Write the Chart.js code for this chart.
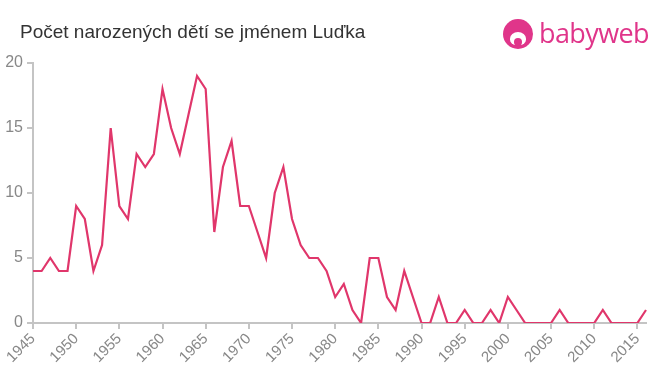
<!DOCTYPE html>
<html lang="cs">
<head>
    <meta charset="UTF-8">
    <title>Počet narozených dětí se jménem Luďka</title>
    <script src="https://cdn.jsdelivr.net/npm/chart.js"></script>
    <style>
        body { margin: 0; background: #fff; font-family: "Liberation Sans", Arial, sans-serif; }
        #wrap { position: relative; width: 660px; height: 375px; }
        #title { position: absolute; left: 20px; top: 21px; font-size: 19px; color: #333; }
        #logo { position: absolute; left: 503px; top: 14px; height: 40px; }
        #logo .icon { position: absolute; left: 0; top: 5px; width: 30px; height: 30px; border-radius: 50%; background: #e0358a; }
        #logo .icon:before { content: ''; position: absolute; left: 7px; top: 13px; width: 16px; height: 13px; border-radius: 50% 50% 40% 40%; background: #fff; }
        #logo .icon:after { content: ''; position: absolute; left: 11px; top: 19px; width: 8px; height: 8px; border-radius: 50%; background: #e0358a; }
        #logo .txt { position: absolute; left: 36px; top: 0; font-size: 27px; color: #e0358a; font-family: "Open Sans", sans-serif; letter-spacing: -0.6px; }
        canvas { position: absolute; left: 0; top: 0; }
    </style>
</head>
<body>
<div id="wrap">
    <canvas id="chart" width="660" height="375"></canvas>
    <div id="title">Počet narozených dětí se jménem Luďka</div>
    <div id="logo"><div class="icon"></div><div class="txt">babyweb</div></div>
</div>
<script>
    const years = [];
    for (let y = 1945; y <= 2016; y++) years.push(String(y));

    const births = [
        4, 4, 5, 4, 4, 9, 8, 4, 6, 15,
        9, 8, 13, 12, 13, 18, 15, 13, 16, 19,
        18, 7, 12, 14, 9, 9, 7, 5, 10, 12,
        8, 6, 5, 5, 4, 2, 3, 1, 0, 5,
        5, 2, 1, 4, 2, 0, 0, 2, 0, 0,
        1, 0, 0, 1, 0, 2, 1, 0, 0, 0,
        0, 1, 0, 0, 0, 0, 1, 0, 0, 0,
        0, 1
    ];

    const yTicks = [0, 5, 10, 15, 20];

    new Chart(document.getElementById('chart'), {
        type: 'line',
        data: {
            labels: years,
            datasets: [{
                data: births,
                borderColor: '#e0366b',
                borderWidth: 2.2,
                pointRadius: 0,
                tension: 0,
                fill: false
            }]
        },
        options: {
            responsive: false,
            animation: false,
            layout: { padding: { top: 63, right: 14, left: 0, bottom: 0 } },
            plugins: { legend: { display: false }, tooltip: { enabled: false } },
            scales: {
                x: {
                    offset: false,
                    grid: { drawOnChartArea: false, drawTicks: true, tickLength: 6, color: '#c4c4c4', lineWidth: 2 },
                    border: { color: '#c4c4c4', width: 2 },
                    ticks: {
                        autoSkip: false,
                        maxRotation: 45,
                        minRotation: 45,
                        color: '#888',
                        font: { size: 15, family: '"Liberation Sans", Arial, sans-serif' },
                        padding: 1,
                        callback: function(v, i) {
                            const lab = years[i];
                            return Number(lab) % 5 === 0 ? lab : null;
                        }
                    },
                    afterFit: function(s) { s.height = 52; }
                },
                y: {
                    min: 0,
                    max: 20,
                    afterBuildTicks: function(s) { s.ticks = yTicks.map(v => ({ value: v })); },
                    grid: { drawOnChartArea: false, drawTicks: true, tickLength: 6, color: '#c4c4c4', lineWidth: 2 },
                    border: { color: '#c4c4c4', width: 2 },
                    ticks: {
                        color: '#888',
                        font: { size: 16, family: '"Liberation Sans", Arial, sans-serif' },
                        padding: 4
                    },
                    afterFit: function(s) { s.width = 33; }
                }
            }
        }
    });
</script>
</body>
</html>
